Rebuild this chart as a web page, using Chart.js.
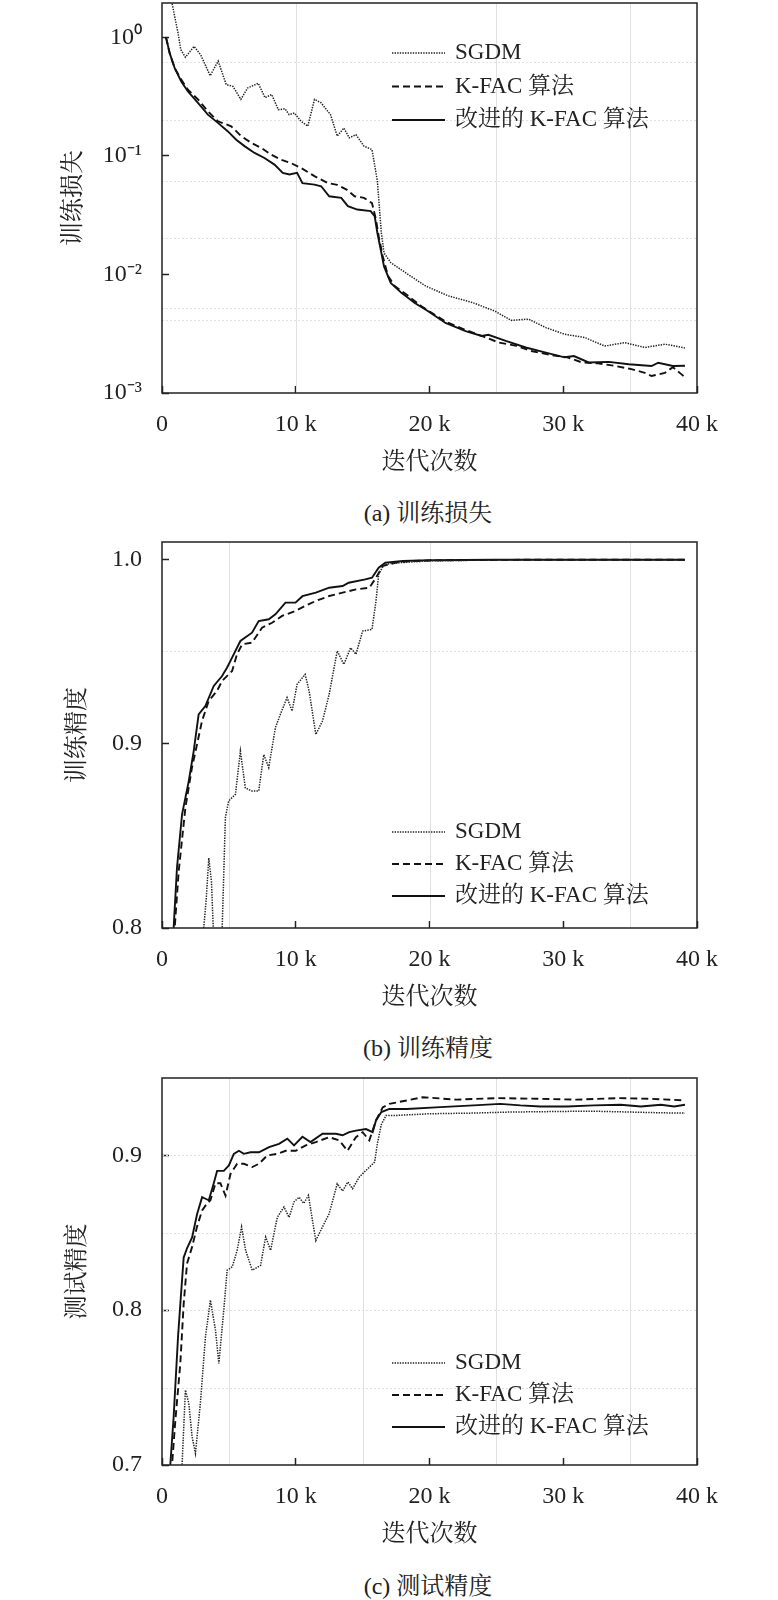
<!DOCTYPE html>
<html>
<head>
<meta charset="utf-8">
<script src="https://cdn.jsdelivr.net/npm/chart.js@4.4.1/dist/chart.umd.min.js"></script>
<style>
body { margin: 0; background: #fff; width: 778px; height: 1600px; position: relative; overflow: hidden; }
canvas { position: absolute; left: 0; }
.cap { position: absolute; left: 278px; width: 300px; text-align: center; line-height: 30px;
       font: 24px "Liberation Serif", "Noto Serif CJK SC", "Noto Sans CJK SC", serif; color: #222; }
</style>
</head>
<body>
<canvas id="lossChart" width="778" height="480" style="top:0px"></canvas>
<div class="cap" style="top:493px">(a) 训练损失</div>
<canvas id="trainAccChart" width="778" height="496" style="top:520px"></canvas>
<div class="cap" style="top:1028px">(b) 训练精度</div>
<canvas id="testAccChart" width="778" height="498" style="top:1055px"></canvas>
<div class="cap" style="top:1566px">(c) 测试精度</div>
<script>
// series names
const seriesNames = ['SGDM', 'K-FAC 算法', '改进的 K-FAC 算法'];

// x axis (iterations, in k)
const xTicks = [0, 10, 20, 30, 40];
const xTickLabels = ['0', '10 k', '20 k', '30 k', '40 k'];

// (a) training loss
const lossYTicks = [0.001, 0.01, 0.1, 1];
const lossYLabels = ['10⁻³', '10⁻²', '10⁻¹', '10⁰'];
const lossSgdmX = [0.4, 0.75, 1.0, 1.2, 1.4, 1.75, 2.4, 2.9, 3.6, 4.2, 4.8, 5.3, 5.9, 6.4, 7.2, 7.7, 8.2, 8.7, 9.2, 9.5, 9.9, 10.4, 10.9, 11.4, 11.9, 12.6, 13.1, 13.6, 14.0, 14.5, 15.1, 15.7, 16.0, 16.1, 16.4, 16.6, 17.1, 18.4, 19.7, 21.4, 23.2, 24.9, 26.1, 27.4, 28.7, 30.1, 31.6, 33.1, 34.6, 36.1, 37.6, 39.1];
const lossSgdmY = [2.3, 1.95, 1.4, 1.09, 0.79, 0.68, 0.84, 0.71, 0.475, 0.63, 0.40, 0.386, 0.30, 0.374, 0.41, 0.31, 0.33, 0.245, 0.25, 0.223, 0.23, 0.196, 0.178, 0.30, 0.28, 0.223, 0.147, 0.172, 0.142, 0.151, 0.121, 0.113, 0.072, 0.0616, 0.0224, 0.0152, 0.0126, 0.010, 0.0080, 0.0066, 0.0058, 0.0049, 0.0041, 0.0042, 0.00356, 0.00313, 0.00294, 0.00249, 0.00266, 0.00242, 0.00258, 0.0024];
const lossKfacX = [0.3, 0.57, 0.95, 1.44, 1.94, 2.69, 3.43, 4.18, 5.17, 5.92, 6.67, 7.41, 8.16, 8.9, 9.65, 10.4, 11.4, 12.4, 13.1, 13.8, 14.4, 15.1, 15.7, 16.0, 16.2, 16.5, 16.9, 17.4, 18.4, 19.4, 21.2, 22.7, 24.0, 25.2, 26.5, 27.6, 29.0, 30.3, 31.4, 32.6, 33.9, 35.1, 36.1, 36.6, 37.6, 38.2, 38.8, 39.1];
const lossKfacY = [1.0, 0.74, 0.55, 0.44, 0.362, 0.30, 0.238, 0.196, 0.178, 0.147, 0.129, 0.117, 0.1026, 0.093, 0.087, 0.079, 0.0675, 0.059, 0.057, 0.052, 0.0457, 0.0443, 0.040, 0.029, 0.021, 0.0143, 0.0097, 0.0080, 0.0066, 0.0054, 0.0040, 0.0034, 0.0030, 0.00266, 0.0025, 0.00226, 0.0021, 0.0020, 0.00181, 0.00178, 0.00169, 0.00159, 0.00148, 0.00139, 0.00148, 0.00165, 0.00145, 0.00136];
const lossImpX = [0.3, 0.57, 0.95, 1.44, 1.94, 2.69, 3.43, 4.18, 4.93, 5.55, 6.17, 6.92, 7.66, 8.41, 9.03, 9.53, 10.1, 10.5, 11.4, 11.9, 12.5, 13.4, 13.9, 14.6, 15.6, 15.9, 16.1, 16.4, 16.6, 17.1, 17.9, 18.9, 19.9, 21.2, 22.7, 23.9, 24.4, 25.7, 27.2, 28.7, 30.1, 30.8, 31.9, 33.4, 34.9, 36.6, 37.1, 38.2, 39.1];
const lossImpY = [1.0, 0.738, 0.55, 0.425, 0.35, 0.28, 0.223, 0.19, 0.161, 0.137, 0.121, 0.106, 0.096, 0.0845, 0.072, 0.0697, 0.072, 0.059, 0.0573, 0.0555, 0.0457, 0.0443, 0.0377, 0.0353, 0.0342, 0.031, 0.0225, 0.0152, 0.0117, 0.0085, 0.0070, 0.00575, 0.0049, 0.0039, 0.00333, 0.00303, 0.0031, 0.00275, 0.00242, 0.00219, 0.0020, 0.00205, 0.00181, 0.00183, 0.00175, 0.00169, 0.0018, 0.00169, 0.0017];

// (b) training accuracy
const trainYTicks = [0.8, 0.9, 1.0];
const trainYLabels = ['0.8', '0.9', '1.0'];
const trainSgdmX = [2.5, 3.0, 3.3, 3.5, 3.7, 3.99, 4.3, 4.5, 4.74, 4.99, 5.49, 5.86, 6.23, 6.73, 7.23, 7.61, 7.98, 8.48, 8.85, 9.35, 9.73, 10.1, 10.7, 11.0, 11.5, 12.0, 12.5, 13.1, 13.6, 14.1, 14.5, 15.0, 15.7, 16.0, 16.2, 16.6, 17.5, 20.0, 25.0, 30.0, 35.0, 39.1];
const trainSgdmY = [0.70, 0.79, 0.815, 0.838, 0.825, 0.77, 0.79, 0.80, 0.86, 0.869, 0.8725, 0.896, 0.876, 0.8743, 0.8743, 0.894, 0.887, 0.9087, 0.9159, 0.925, 0.9177, 0.9322, 0.9376, 0.9286, 0.905, 0.9123, 0.9268, 0.9503, 0.943, 0.952, 0.9485, 0.9611, 0.962, 0.9774, 0.9919, 0.9973, 0.998, 0.9992, 0.9996, 0.9997, 0.9997, 0.9997];
const trainKfacX = [0.6, 0.95, 1.25, 1.75, 2.24, 2.62, 2.99, 3.49, 4.11, 4.49, 5.24, 5.61, 5.99, 6.73, 7.48, 8.23, 8.98, 9.98, 10.7, 11.5, 12.5, 13.5, 14.5, 15.5, 16.0, 16.5, 17.5, 18.5, 20.0, 25.0, 30.0, 35.0, 39.1];
const trainKfacY = [0.70, 0.80, 0.831, 0.8653, 0.887, 0.8996, 0.9123, 0.9231, 0.9286, 0.934, 0.9394, 0.9485, 0.9539, 0.9548, 0.9629, 0.9656, 0.9693, 0.972, 0.9747, 0.9774, 0.9801, 0.9819, 0.9837, 0.9846, 0.990, 0.9964, 0.9982, 0.999, 0.9994, 0.9997, 0.9998, 0.9998, 0.9998];
const trainImpX = [0.5, 0.87, 1.12, 1.5, 2.0, 2.37, 2.74, 3.24, 3.87, 4.49, 4.86, 5.24, 5.86, 6.73, 7.23, 7.98, 8.48, 9.23, 9.98, 10.5, 11.5, 12.5, 13.5, 13.96, 15.2, 15.7, 16.2, 16.7, 18.0, 20.0, 25.0, 30.0, 35.0, 39.1];
const trainImpY = [0.70, 0.80, 0.8327, 0.8617, 0.8797, 0.896, 0.9159, 0.9204, 0.9313, 0.9367, 0.9412, 0.9467, 0.9557, 0.9602, 0.9665, 0.9675, 0.9702, 0.9765, 0.9765, 0.980, 0.9819, 0.9846, 0.9855, 0.9873, 0.9891, 0.990, 0.9955, 0.9982, 0.9991, 0.9995, 0.9998, 0.9998, 0.9998, 0.9998];

// (c) test accuracy
const testYTicks = [0.7, 0.8, 0.9];
const testYLabels = ['0.7', '0.8', '0.9'];
const testSgdmX = [1.3, 1.5, 1.75, 2.0, 2.25, 2.5, 2.87, 3.25, 3.62, 4.0, 4.25, 4.62, 4.87, 5.25, 5.62, 5.95, 6.25, 6.75, 7.37, 7.75, 8.12, 8.62, 9.12, 9.5, 9.87, 10.25, 10.6, 10.95, 11.25, 11.5, 12.0, 12.5, 13.1, 13.5, 13.9, 14.25, 14.75, 15.25, 15.9, 16.1, 16.4, 16.75, 17.5, 20.0, 23.0, 26.0, 29.0, 32.0, 35.0, 37.5, 39.1];
const testSgdmY = [0.66, 0.70, 0.7484, 0.740, 0.7183, 0.7075, 0.740, 0.783, 0.8065, 0.787, 0.7656, 0.800, 0.8258, 0.828, 0.8387, 0.8538, 0.8387, 0.8258, 0.829, 0.8473, 0.8387, 0.860, 0.8667, 0.860, 0.870, 0.873, 0.869, 0.8742, 0.858, 0.845, 0.8538, 0.8624, 0.8817, 0.877, 0.8828, 0.8785, 0.886, 0.8903, 0.8957, 0.9075, 0.920, 0.9258, 0.9258, 0.9269, 0.9273, 0.928, 0.9283, 0.9286, 0.928, 0.9275, 0.9273];
const testKfacX = [0.55, 0.75, 1.0, 1.37, 1.62, 1.87, 2.25, 2.62, 3.0, 3.37, 3.62, 4.0, 4.37, 4.75, 5.12, 5.62, 6.12, 6.75, 7.25, 7.87, 8.62, 9.25, 10.0, 10.75, 11.5, 12.5, 13.25, 13.87, 14.5, 15.0, 15.5, 16.0, 16.5, 17.0, 18.3, 19.5, 22.0, 25.0, 28.0, 31.0, 34.0, 36.5, 39.1];
const testKfacY = [0.66, 0.70, 0.729, 0.7656, 0.804, 0.830, 0.8409, 0.854, 0.8645, 0.869, 0.871, 0.882, 0.882, 0.874, 0.888, 0.8946, 0.8946, 0.8925, 0.8946, 0.90, 0.901, 0.903, 0.903, 0.9065, 0.9086, 0.9118, 0.9097, 0.903, 0.9118, 0.915, 0.9097, 0.9226, 0.931, 0.9333, 0.9355, 0.9376, 0.936, 0.937, 0.9366, 0.936, 0.937, 0.9366, 0.9355];
const testImpX = [0.45, 0.62, 0.87, 1.2, 1.37, 1.62, 1.87, 2.25, 2.62, 3.0, 3.25, 3.5, 3.87, 4.12, 4.62, 5.0, 5.37, 5.75, 6.12, 6.62, 7.25, 8.0, 8.75, 9.37, 9.87, 10.5, 11.1, 12.0, 13.0, 13.5, 14.0, 14.5, 15.25, 15.75, 16.0, 16.4, 17.0, 18.3, 20.8, 23.3, 25.3, 26.8, 28.3, 30.3, 32.3, 34.3, 35.8, 37.3, 38.3, 39.1];
const testImpY = [0.66, 0.70, 0.731, 0.783, 0.804, 0.834, 0.840, 0.847, 0.862, 0.873, 0.872, 0.871, 0.882, 0.890, 0.890, 0.8935, 0.901, 0.903, 0.901, 0.902, 0.902, 0.9054, 0.9075, 0.9108, 0.9065, 0.912, 0.9086, 0.914, 0.914, 0.913, 0.915, 0.916, 0.917, 0.915, 0.9226, 0.928, 0.930, 0.930, 0.9312, 0.9323, 0.9333, 0.9323, 0.9316, 0.9316, 0.9323, 0.9327, 0.9316, 0.9327, 0.9316, 0.9327];

// faint background lines seen in the figure
const lossGridX = [10, 25, 35];
const lossGridY = [0.62, 0.2, 0.061, 0.0204, 0.0052, 0.0041];
const trainGridX = [5, 20, 35];
const trainGridY = [0.95];
const testGridX = [5, 15, 25, 35];
const testGridY = [0.9, 0.8, 0.85, 0.75];

const FONT = '"Liberation Serif", "Noto Serif CJK SC", "Noto Sans CJK SC", serif';
Chart.defaults.font.family = FONT;
Chart.defaults.color = '#222';

const lineStyles = [
    { borderColor: '#222', borderWidth: 1.5, borderDash: [1.4, 1.2] },
    { borderColor: '#111', borderWidth: 1.9, borderDash: [7, 4] },
    { borderColor: '#111', borderWidth: 1.9, borderDash: [] }
];

function pts(xs, ys) {
    return xs.map((x, i) => ({ x: x, y: ys[i] }));
}

const faintGrid = {
    id: 'faintGrid',
    beforeDatasetsDraw(chart, args, opts) {
        const { ctx, chartArea: a, scales } = chart;
        ctx.save();
        ctx.strokeStyle = '#e0e0e0';
        ctx.lineWidth = 1;
        (opts.xs || []).forEach(v => {
            const px = Math.round(scales.x.getPixelForValue(v)) + 0.5;
            ctx.beginPath(); ctx.moveTo(px, a.top); ctx.lineTo(px, a.bottom); ctx.stroke();
        });
        ctx.setLineDash([2, 2]);
        (opts.ys || []).forEach(v => {
            const py = Math.round(scales.y.getPixelForValue(v)) + 0.5;
            ctx.beginPath(); ctx.moveTo(a.left, py); ctx.lineTo(a.right, py); ctx.stroke();
        });
        ctx.restore();
    }
};

const frameAndLegend = {
    id: 'inLegend',
    afterDraw(chart, args, opts) {
        const { ctx, chartArea: a } = chart;
        ctx.save();
        ctx.strokeStyle = '#222';
        ctx.lineWidth = 1.5;
        ctx.strokeRect(a.left, a.top, a.right - a.left, a.bottom - a.top);
        ctx.font = '23px ' + FONT;
        ctx.textBaseline = 'middle';
        ctx.fillStyle = '#222';
        chart.data.datasets.forEach((ds, i) => {
            const y = opts.y + i * opts.gap;
            ctx.beginPath();
            ctx.strokeStyle = ds.borderColor;
            ctx.lineWidth = ds.borderWidth;
            ctx.setLineDash(ds.borderDash);
            ctx.moveTo(opts.x, y);
            ctx.lineTo(opts.x + 53, y);
            ctx.stroke();
            ctx.setLineDash([]);
            ctx.fillText(ds.label, opts.x + 63, y);
        });
        ctx.restore();
    }
};

// drop the automatic label padding so the plot area follows layout.padding
function noPadding(scale) {
    scale.paddingTop = 0;
    scale.paddingBottom = 0;
    scale.paddingLeft = 0;
    scale.paddingRight = 0;
}

function makeChart(id, series, y, layout) {
    return new Chart(document.getElementById(id), {
        type: 'line',
        data: {
            datasets: series.map((s, i) => Object.assign({
                label: seriesNames[i],
                data: pts(s[0], s[1]),
                pointRadius: 0,
                fill: false,
                tension: 0
            }, lineStyles[i]))
        },
        options: {
            responsive: false,
            animation: false,
            events: [],
            layout: { padding: { left: 0, right: 81, top: layout.top, bottom: layout.bottom } },
            plugins: {
                legend: { display: false },
                tooltip: { enabled: false },
                faintGrid: { xs: layout.gridX, ys: layout.gridY },
                inLegend: { x: 392, y: layout.legendY, gap: layout.legendGap }
            },
            scales: {
                x: {
                    type: 'linear',
                    min: 0,
                    max: 40,
                    afterBuildTicks: (scale) => { scale.ticks = xTicks.map(v => ({ value: v })); },
                    afterFit: (scale) => { scale.height = 84.4; noPadding(scale); },
                    border: { display: false },
                    grid: { drawOnChartArea: false, drawTicks: true, tickLength: -7, tickColor: '#222', tickWidth: 1.5 },
                    ticks: {
                        padding: 24,
                        maxRotation: 0,
                        font: { size: 24 },
                        callback: (v, i) => xTickLabels[i]
                    },
                    title: { display: true, text: '迭代次数', font: { size: 24 }, padding: { top: 0, bottom: 0 } }
                },
                y: Object.assign({
                    afterBuildTicks: (scale) => { scale.ticks = y.ticks.map(v => ({ value: v })); },
                    afterFit: (scale) => { scale.width = 162; noPadding(scale); },
                    border: { display: false },
                    grid: { drawOnChartArea: false, drawTicks: true, tickLength: -7, tickColor: '#222', tickWidth: 1.5 },
                    ticks: {
                        padding: 27,
                        font: { size: 24 },
                        callback: (v, i) => y.labels[i]
                    },
                    title: { display: true, text: y.title, font: { size: 24 }, padding: { top: y.titlePad, bottom: 0 } }
                }, y.scale)
            }
        },
        plugins: [faintGrid, frameAndLegend]
    });
}

makeChart('lossChart',
    [[lossSgdmX, lossSgdmY], [lossKfacX, lossKfacY], [lossImpX, lossImpY]],
    { ticks: lossYTicks, labels: lossYLabels, title: '训练损失', titlePad: 59,
      scale: { type: 'logarithmic', min: 0.001, max: 1.95 } },
    { top: 3, bottom: 2.6, gridX: lossGridX, gridY: lossGridY, legendY: 53, legendGap: 33.5 });

makeChart('trainAccChart',
    [[trainSgdmX, trainSgdmY], [trainKfacX, trainKfacY], [trainImpX, trainImpY]],
    { ticks: trainYTicks, labels: trainYLabels, title: '训练精度', titlePad: 63,
      scale: { type: 'linear', min: 0.8, max: 1.0094 } },
    { top: 22, bottom: 3.6, gridX: trainGridX, gridY: trainGridY, legendY: 312, legendGap: 32 });

makeChart('testAccChart',
    [[testSgdmX, testSgdmY], [testKfacX, testKfacY], [testImpX, testImpY]],
    { ticks: testYTicks, labels: testYLabels, title: '测试精度', titlePad: 63,
      scale: { type: 'linear', min: 0.7, max: 0.95 } },
    { top: 23, bottom: 3.6, gridX: testGridX, gridY: testGridY, legendY: 308, legendGap: 32 });
</script>
</body>
</html>
